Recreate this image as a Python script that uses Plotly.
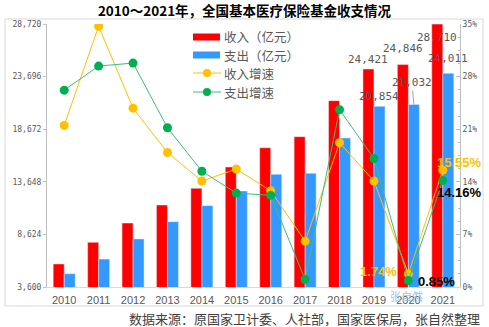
import plotly.graph_objects as go

# ---- data ----
years = [2010, 2011, 2012, 2013, 2014, 2015, 2016, 2017, 2018, 2019, 2020, 2021]
income = [5800, 7870, 9710, 11430, 13020, 15060, 16900, 17960, 21400, 24421, 24846, 28710]
expense = [4870, 6270, 8190, 9840, 11370, 12770, 14360, 14460, 17830, 20854, 21032, 24011]
income_growth = [21.5, 34.7, 23.8, 17.9, 14.1, 15.7, 12.8, 6.1, 19.2, 14.1, 1.74, 15.55]
expense_growth = [26.2, 29.4, 29.8, 21.2, 15.4, 12.5, 12.2, 1.0, 23.6, 17.1, 0.85, 14.16]
left_ticks = [3600, 8624, 13648, 18672, 23696, 28720]

RED = "#FF0000"
BLUE = "#3399FF"
ORANGE = "#FFC000"
GREEN = "#00B050"
GREEN_LINE = "#3CBF78"
GRAY_TXT = "#595959"
CJK = "Noto Sans CJK SC"
MONO = "DejaVu Sans Mono"

W, H = 489, 327
L, R, T, B = 47, 29, 24, 40
PW, PH = W - L - R, H - T - B


def px(x):
    return (x - L) / PW


def py(y):
    return (H - B - y) / PH


fig = go.Figure()
fig.add_trace(go.Bar(x=years, y=income, name="收入（亿元）", marker_color=RED,
                     showlegend=False))
fig.add_trace(go.Bar(x=years, y=expense, name="支出（亿元）", marker_color=BLUE,
                     showlegend=False))
fig.add_trace(go.Scatter(x=years, y=income_growth, name="收入增速", yaxis="y2",
                         mode="lines+markers", line=dict(color=ORANGE, width=1),
                         marker=dict(color=ORANGE, size=9), showlegend=False))
fig.add_trace(go.Scatter(x=years, y=expense_growth, name="支出增速", yaxis="y2",
                         mode="lines+markers", line=dict(color=GREEN_LINE, width=1),
                         marker=dict(color=GREEN, size=9), showlegend=False))

annotations = []
shapes = []

# value labels on the last three years' bars
lab_font = dict(family=MONO, size=11, color=GRAY_TXT)
for yr, val, shift in [(years[9], income[9], 1), (years[10], income[10], 8), (years[11], income[11], -22)]:
    annotations.append(dict(x=yr, y=val, xref="x", yref="y", text=f"{val:,}",
                            showarrow=False, xshift=-5.5, yshift=shift,
                            yanchor="bottom", font=lab_font))
for yr, val, shift in [(years[9], expense[9], 1), (years[11], expense[11], 6)]:
    annotations.append(dict(x=yr, y=val, xref="x", yref="y", text=f"{val:,}",
                            showarrow=False, xshift=5.5, yshift=shift,
                            yanchor="bottom", font=lab_font))
annotations.append(dict(x=years[10], y=expense[10], xref="x", yref="y", text=f"{expense[10]:,}",
                        showarrow=True, arrowhead=0, arrowwidth=1, arrowcolor="#A6A6A6",
                        ax=-2, ay=-22, xshift=5.5, font=lab_font))

# growth-rate labels
pct_font = dict(family="Liberation Sans", size=13, weight="bold")
annotations += [
    dict(x=years[11], y=income_growth[11], xref="x", yref="y2", text=f"{income_growth[11]:.2f}%",
         showarrow=False, xanchor="left", xshift=-8, yshift=8,
         font=dict(pct_font, color=ORANGE)),
    dict(x=years[11], y=expense_growth[11], xref="x", yref="y2", text=f"{expense_growth[11]:.2f}%",
         showarrow=False, xanchor="left", xshift=-8, yshift=-12,
         font=dict(pct_font, color="#000000")),
    dict(x=years[10], y=income_growth[10], xref="x", yref="y2", text=f"{income_growth[10]:.2f}%",
         showarrow=False, xanchor="right", xshift=-9, yshift=2,
         font=dict(pct_font, color=ORANGE)),
    dict(x=years[10], y=expense_growth[10], xref="x", yref="y2", text=f"{expense_growth[10]:.2f}%",
         showarrow=False, xanchor="left", xshift=8, yshift=-1,
         font=dict(pct_font, color="#000000")),
]

# legend drawn by hand
leg_font = dict(family=CJK, size=12.5, color=GRAY_TXT)
rows = [(37, "rect", RED, RED, "收入（亿元）"), (55, "rect", BLUE, BLUE, "支出（亿元）"),
        (73, "line", ORANGE, ORANGE, "收入增速"), (92, "line", GREEN, GREEN_LINE, "支出增速")]
for yy, kind, col, lcol, label in rows:
    if kind == "rect":
        shapes.append(dict(type="rect", xref="paper", yref="paper",
                           x0=px(193), x1=px(220), y0=py(yy - 3.5), y1=py(yy + 3.5),
                           fillcolor=col, line=dict(width=0)))
    else:
        shapes.append(dict(type="line", xref="paper", yref="paper",
                           x0=px(193), x1=px(221), y0=py(yy), y1=py(yy),
                           line=dict(color=lcol, width=1)))
        shapes.append(dict(type="circle", xref="paper", yref="paper",
                           x0=px(203), x1=px(211), y0=py(yy + 4), y1=py(yy - 4),
                           fillcolor=col, line=dict(width=0)))
    annotations.append(dict(x=px(222), y=py(yy), xref="paper", yref="paper", text=label,
                            showarrow=False, xanchor="left", yanchor="middle", font=leg_font))

# outer frame
shapes.append(dict(type="rect", xref="paper", yref="paper", layer="below",
                   x0=px(5), x1=px(483), y0=py(306), y1=py(19),
                   line=dict(color="#D9D9D9", width=1), fillcolor="rgba(0,0,0,0)"))

# source note and signature
annotations.append(dict(x=px(482), y=py(318), xref="paper", yref="paper",
                        text="数据来源：原国家卫计委、人社部，国家医保局，张自然整理",
                        showarrow=False, xanchor="right", yanchor="middle",
                        font=dict(family=CJK, size=13, color="#404040")))
annotations.append(dict(x=px(406), y=py(296), xref="paper", yref="paper", text="张自然",
                        showarrow=False, xanchor="center", yanchor="middle",
                        font=dict(family=CJK, size=11, color="#9DC3E6")))

fig.update_layout(
    width=W, height=H,
    margin=dict(l=L, r=R, t=T, b=B),
    paper_bgcolor="white", plot_bgcolor="white",
    barmode="group", bargap=0.36, bargroupgap=0,
    title=dict(text="<b>2010～2021年，全国基本医疗保险基金收支情况</b>",
               x=0.5, xanchor="center", y=1 - 11 / H, yanchor="middle",
               font=dict(family=CJK, size=13.5, color="#000000")),
    xaxis=dict(range=[years[0] - 0.5, years[-1] + 0.5], tickvals=years,
               ticktext=[str(y) for y in years],
               showgrid=False, zeroline=False, showline=True, linecolor="#D9D9D9",
               ticks="outside", ticklen=3, tickcolor="rgba(0,0,0,0)",
               tickfont=dict(family="Liberation Sans", size=11, color=GRAY_TXT)),
    yaxis=dict(range=[3600, 28720], tickvals=left_ticks, tickformat=",",
               showgrid=False, zeroline=False, showline=True, linecolor="#BFBFBF",
               ticks="outside", ticklen=3, tickcolor="#BFBFBF",
               tickfont=dict(family=MONO, size=8, color=GRAY_TXT)),
    yaxis2=dict(range=[0, 35], dtick=7, ticksuffix="%", overlaying="y", side="right",
                showgrid=False, zeroline=False, showline=True, linecolor="#BFBFBF",
                ticks="inside", ticklen=4, tickcolor="#BFBFBF",
                minor=dict(dtick=1.75, ticks="inside", ticklen=2, tickcolor="#BFBFBF"),
                tickfont=dict(family=MONO, size=8, color=GRAY_TXT)),
    annotations=annotations,
    shapes=shapes,
)

fig.write_html("out.html")
